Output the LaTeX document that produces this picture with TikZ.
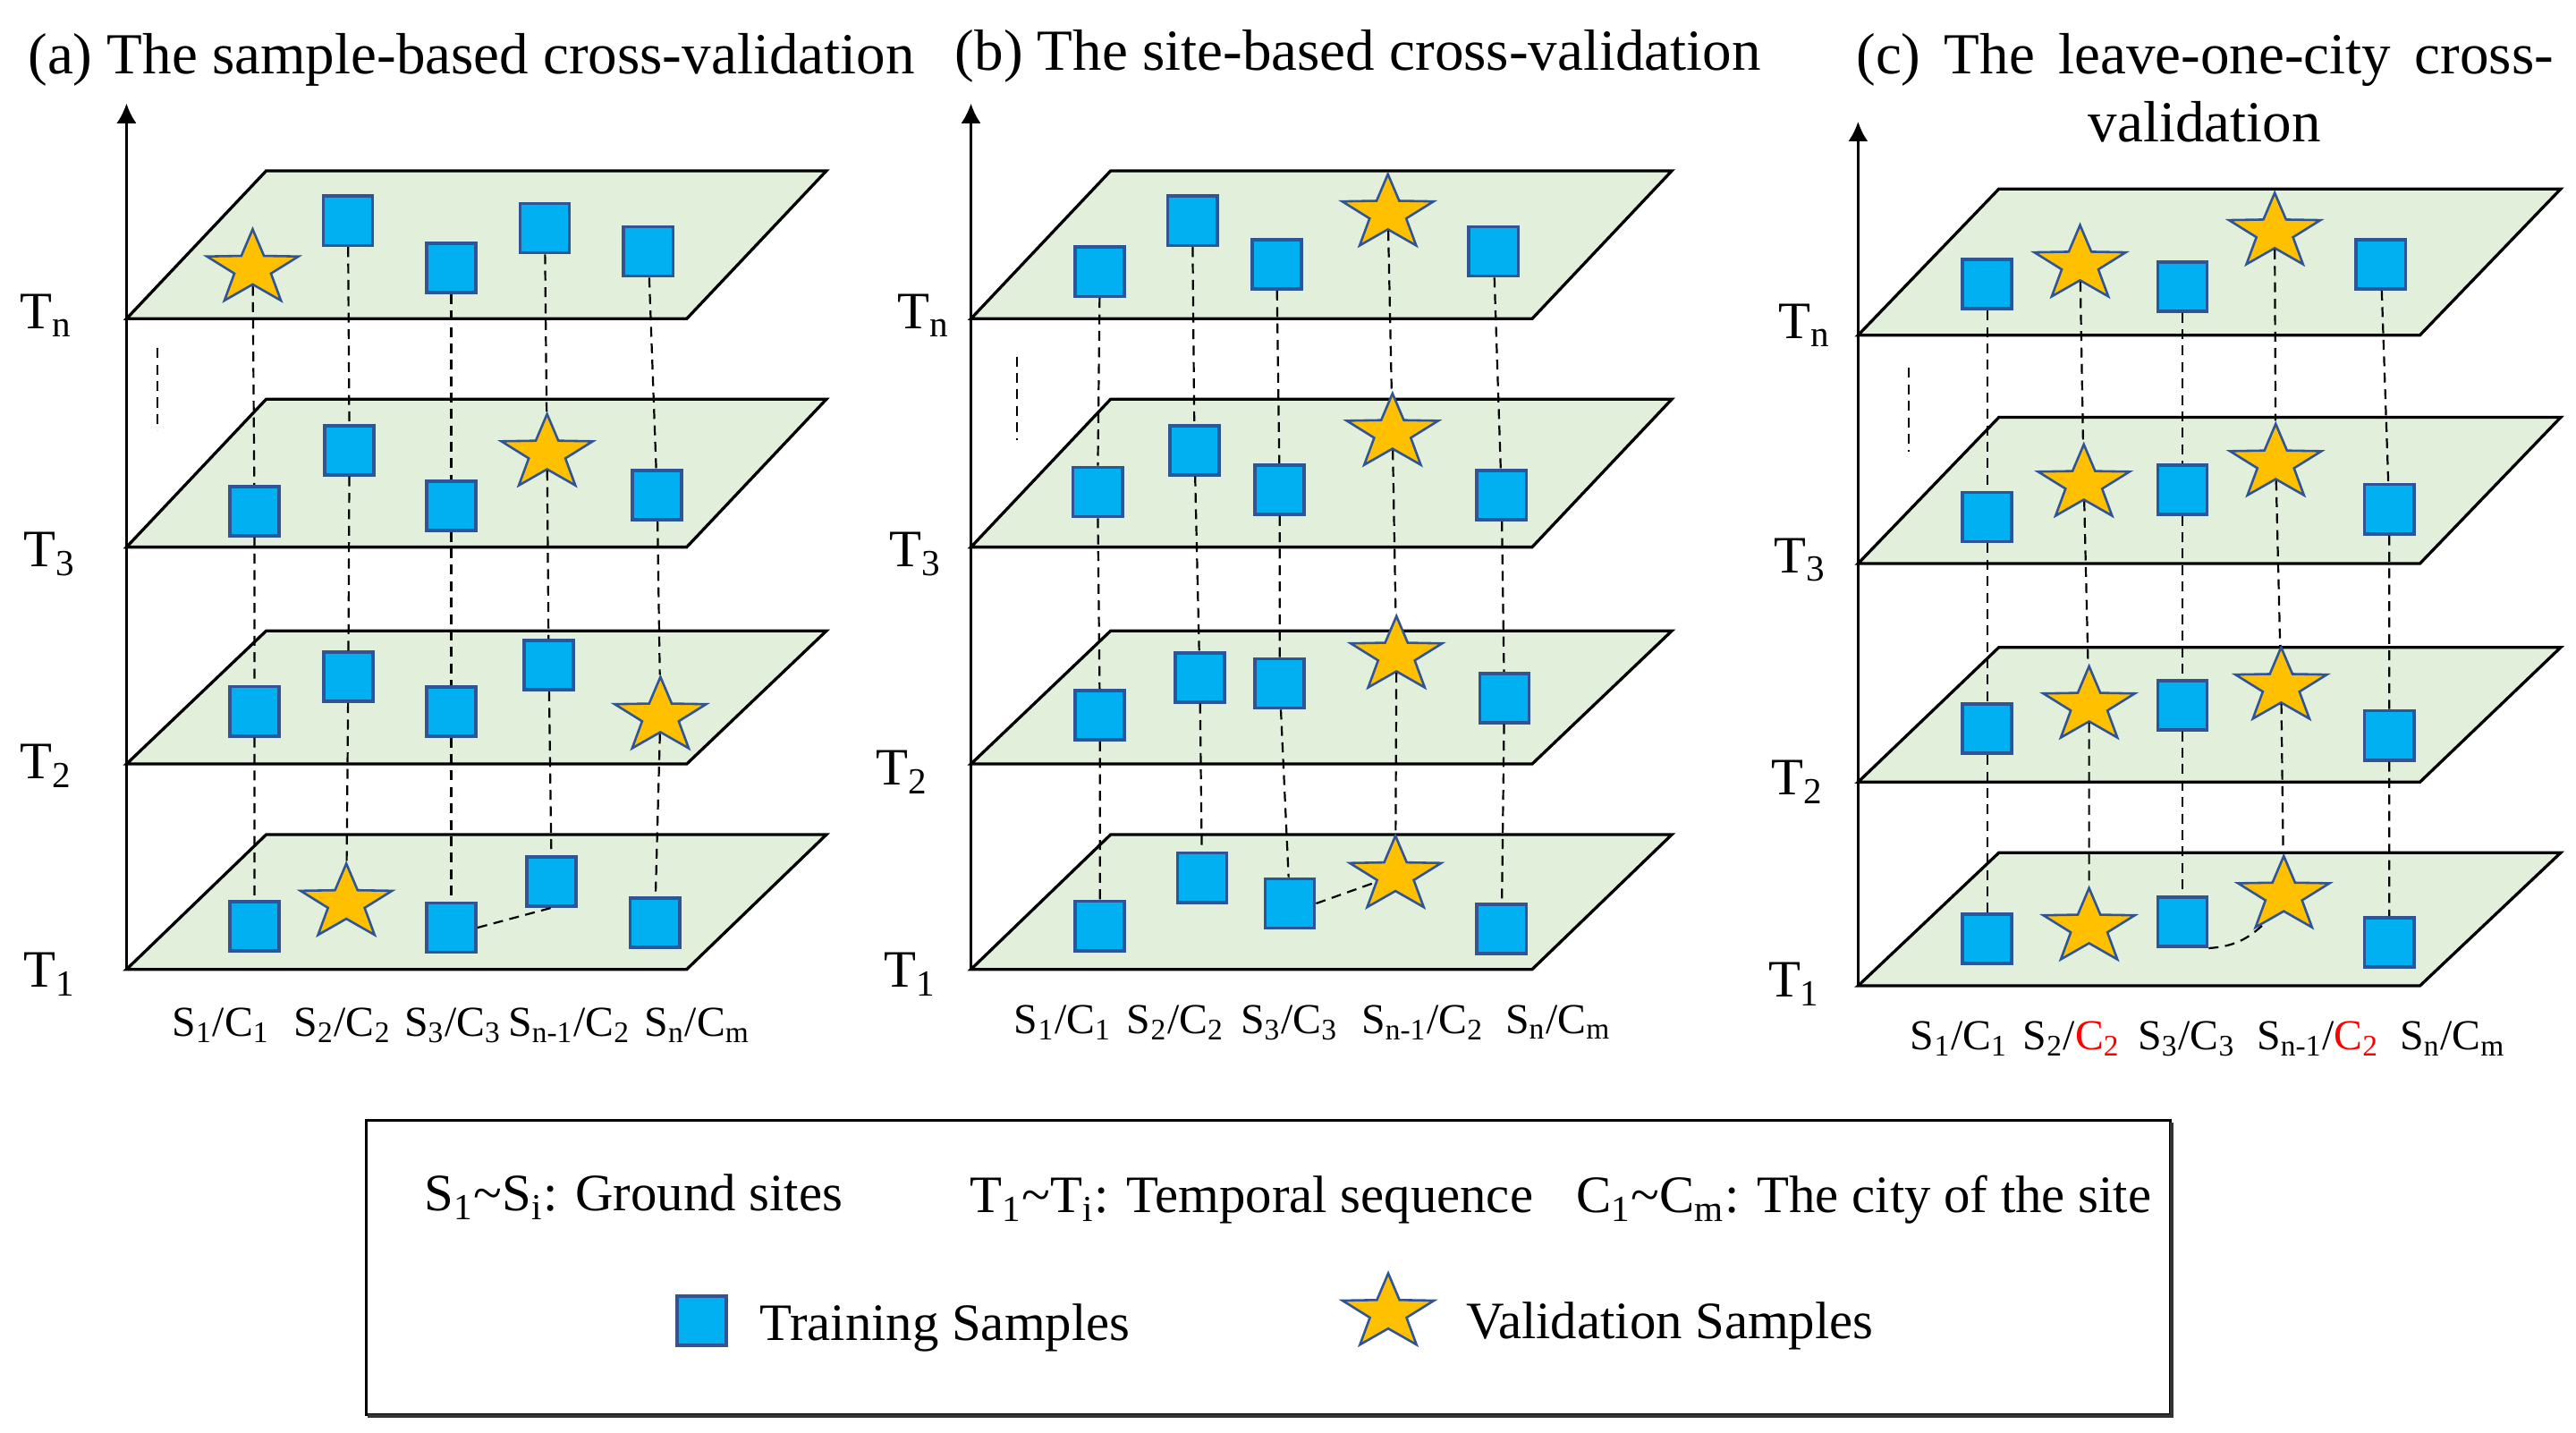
\documentclass[tikz,border=0pt]{standalone}
\usepackage{fontspec}
\setmainfont{Liberation Serif}
\usetikzlibrary{shapes.geometric,arrows.meta}
\definecolor{planefill}{HTML}{E2EFDA}
\definecolor{sqfill}{HTML}{00B0F0}
\definecolor{mkborder}{HTML}{2F5597}
\definecolor{starfill}{HTML}{FFC000}
\begin{document}
\begin{tikzpicture}[x=0.5pt,y=-0.5pt,
  plane/.style={fill=planefill, draw=black, line width=0.9pt, line join=miter},
  trn/.style={rectangle, fill=sqfill, draw=mkborder, line width=1pt, minimum width=15pt, minimum height=15pt, inner sep=0pt},
  val/.style={star, star points=5, star point ratio=2.5, fill=starfill, draw=mkborder, line width=0.7pt, minimum size=24pt, inner sep=0pt, xscale=1.22},
  link/.style={dash pattern=on 3pt off 2pt, line width=0.6pt},
  tlab/.style={font=\fontsize{16}{18}\selectfont, anchor=base west, inner sep=0pt},
  slab/.style={font=\fontsize{13}{15}\selectfont, anchor=base, inner sep=0pt},
  ttl/.style={font=\fontsize{17.7}{20}\selectfont, anchor=base west, inner sep=0pt},
  lgd/.style={font=\fontsize{16}{18}\selectfont, anchor=base west, inner sep=0pt},
  axis/.style={-{Latex[length=6pt,width=6pt]}, line width=0.8pt},
]
\useasboundingbox (0,0) rectangle (1568,872);

% ---------- titles ----------
\node[ttl] (ta) at (16.7,44.8) {(a) The sample-based cross-validation};
\node[ttl] (tb) at (581,42.7) {(b) The site-based cross-validation};
\node[ttl] (tc1) at (1129.5,44.8) {\makebox[212.25pt][s]{(c) The leave-one-city cross-}};
\node[ttl, anchor=base] (tc2) at (1342,86.5) {validation};

% ---------- panel (a) ----------
\draw[axis, line width=0.6pt] (77,590) -- (77,63);
\draw[plane] (77,194) -- ++(341,0) -- ++(85,-90) -- ++(-341,0) -- cycle;
\draw[plane] (77,333) -- ++(341,0) -- ++(85,-90) -- ++(-341,0) -- cycle;
\draw[plane] (77,465) -- ++(341,0) -- ++(85,-81) -- ++(-341,0) -- cycle;
\draw[plane] (77,590) -- ++(341,0) -- ++(85,-82) -- ++(-341,0) -- cycle;
\draw[link] (96,212) -- (96,262);
\node[tlab] (aTn) at (12,200) {T\textsubscript{n}};
\node[tlab] (aT3) at (14,345) {T\textsubscript{3}};
\node[tlab] (aT2) at (12,474) {T\textsubscript{2}};
\node[tlab] (aT1) at (14,601) {T\textsubscript{1}};

\node[val] (aN1) at (153.8,163.5) {};
\node[trn] (aN2) at (211.8,134.4) {};
\node[trn] (aN3) at (274.7,163) {};
\node[trn] (aN4) at (331.6,138.8) {};
\node[trn] (aN5) at (394.6,153) {};
\node[trn] (a31) at (154.9,311) {};
\node[trn] (a32) at (212.7,274) {};
\node[trn] (a33) at (274.7,307.8) {};
\node[val] (a34) at (333,276) {};
\node[trn] (a35) at (400,301.5) {};
\node[trn] (a21) at (154.9,432.9) {};
\node[trn] (a22) at (212,412) {};
\node[trn] (a23) at (274.7,433) {};
\node[trn] (a24) at (334,404.8) {};
\node[val] (a25) at (402,436) {};
\node[trn] (a11) at (154.9,563.7) {};
\node[val] (a12) at (210.8,549.6) {};
\node[trn] (a13) at (274.7,564.6) {};
\node[trn] (a14) at (335.8,536.5) {};
\node[trn] (a15) at (398.6,561.7) {};
\foreach \k in {1,...,5} {\draw[link] (aN\k) -- (a3\k) -- (a2\k) -- (a1\k);}
\draw[link] (a13.east) -- (a14.south);

\node[slab] (aS1) at (134.5,631) {S\textsubscript{1}/C\textsubscript{1}};
\node[slab] (aS2) at (208.5,631) {S\textsubscript{2}/C\textsubscript{2}};
\node[slab] (aS3) at (275.7,631) {S\textsubscript{3}/C\textsubscript{3}};
\node[slab] (aS4) at (346.6,631) {S\textsubscript{n-1}/C\textsubscript{2}};
\node[slab] (aS5) at (424.5,631) {S\textsubscript{n}/C\textsubscript{m}};

% ---------- panel (b) ----------
\draw[axis] (591,590) -- (591,63);
\draw[plane] (591,194) -- ++(341.6,0) -- ++(85,-90) -- ++(-341.6,0) -- cycle;
\draw[plane] (591,333) -- ++(341.6,0) -- ++(85,-90) -- ++(-341.6,0) -- cycle;
\draw[plane] (591,465) -- ++(341.6,0) -- ++(85,-81) -- ++(-341.6,0) -- cycle;
\draw[plane] (591,590) -- ++(341.6,0) -- ++(85,-82) -- ++(-341.6,0) -- cycle;
\draw[link] (619,217) -- (619,268);
\node[tlab] (bTn) at (546,200) {T\textsubscript{n}};
\node[tlab] (bT3) at (541,345) {T\textsubscript{3}};
\node[tlab] (bT2) at (533,478) {T\textsubscript{2}};
\node[tlab] (bT1) at (538,601) {T\textsubscript{1}};

\node[trn] (bN1) at (669.5,165.4) {};
\node[trn] (bN2) at (725.8,134.4) {};
\node[trn] (bN3) at (777.1,160.9) {};
\node[val] (bN4) at (844.8,130) {};
\node[trn] (bN5) at (909.1,153) {};
\node[trn] (b31) at (668.1,299.4) {};
\node[trn] (b32) at (727.1,274) {};
\node[trn] (b33) at (778.9,298) {};
\node[val] (b34) at (847.6,263.5) {};
\node[trn] (b35) at (914,301.5) {};
\node[trn] (b21) at (669.5,435.3) {};
\node[trn] (b22) at (730.3,412.3) {};
\node[trn] (b23) at (778.9,415.9) {};
\node[val] (b24) at (850,399) {};
\node[trn] (b25) at (915.7,424.8) {};
\node[trn] (b11) at (669.5,563.6) {};
\node[trn] (b12) at (731.7,534.2) {};
\node[trn] (b13) at (785.1,549.9) {};
\node[val] (b14) at (849.4,532.7) {};
\node[trn] (b15) at (914,565.5) {};
\foreach \k in {1,...,5} {\draw[link] (bN\k) -- (b3\k) -- (b2\k) -- (b1\k);}
\draw[link] (b13.east) -- (b14);

\node[slab] (bS1) at (647,629) {S\textsubscript{1}/C\textsubscript{1}};
\node[slab] (bS2) at (715.6,629) {S\textsubscript{2}/C\textsubscript{2}};
\node[slab] (bS3) at (784.8,629) {S\textsubscript{3}/C\textsubscript{3}};
\node[slab] (bS4) at (866,629) {S\textsubscript{n-1}/C\textsubscript{2}};
\node[slab] (bS5) at (948.5,629) {S\textsubscript{n}/C\textsubscript{m}};

% ---------- panel (c) ----------
\draw[axis] (1131,600) -- (1131,74);
\draw[plane] (1131,204) -- ++(342,0) -- ++(85.7,-89) -- ++(-342,0) -- cycle;
\draw[plane] (1131,343) -- ++(342,0) -- ++(85.7,-89) -- ++(-342,0) -- cycle;
\draw[plane] (1131,476) -- ++(342,0) -- ++(85.7,-82) -- ++(-342,0) -- cycle;
\draw[plane] (1131,600) -- ++(342,0) -- ++(85.7,-81) -- ++(-342,0) -- cycle;
\draw[link] (1162,224) -- (1162,275);
\node[tlab] (cTn) at (1082,206) {T\textsubscript{n}};
\node[tlab] (cT3) at (1079.5,348.6) {T\textsubscript{3}};
\node[tlab] (cT2) at (1078,484) {T\textsubscript{2}};
\node[tlab] (cT1) at (1076,607) {T\textsubscript{1}};

\node[trn] (cN1) at (1209.6,173) {};
\node[val] (cN2) at (1266.1,161) {};
\node[trn] (cN3) at (1328.4,174.4) {};
\node[val] (cN4) at (1384.6,141.4) {};
\node[trn] (cN5) at (1449.2,160.9) {};
\node[trn] (c31) at (1209.6,314.7) {};
\node[val] (c32) at (1268.4,294.5) {};
\node[trn] (c33) at (1328.4,298) {};
\node[val] (c34) at (1385.2,282) {};
\node[trn] (c35) at (1454.3,309.9) {};
\node[trn] (c21) at (1209.6,443.6) {};
\node[val] (c22) at (1271.6,429.5) {};
\node[trn] (c23) at (1328.4,429.2) {};
\node[val] (c24) at (1388.5,418) {};
\node[trn] (c25) at (1454.3,447.6) {};
\node[trn] (c11) at (1209.6,571.3) {};
\node[val] (c12) at (1271.6,564.5) {};
\node[trn] (c13) at (1328.4,561.1) {};
\node[val] (c14) at (1390.1,545) {};
\node[trn] (c15) at (1454.3,573.6) {};
\foreach \k in {1,...,5} {\draw[link] (cN\k) -- (c3\k) -- (c2\k) -- (c1\k);}
\draw[link] (c13.south east) to[bend right=20] (c14);

\node[slab] (cS1) at (1192.5,639) {S\textsubscript{1}/C\textsubscript{1}};
\node[slab] (cS2) at (1261,639) {S\textsubscript{2}/\textcolor{red}{C\textsubscript{2}}};
\node[slab] (cS3) at (1331,639) {S\textsubscript{3}/C\textsubscript{3}};
\node[slab] (cS4) at (1411,639) {S\textsubscript{n-1}/\textcolor{red}{C\textsubscript{2}}};
\node[slab] (cS5) at (1493,639) {S\textsubscript{n}/C\textsubscript{m}};

% ---------- legend ----------
\draw[line width=0.9pt] (223,682) rectangle (1321,861);
\draw[line width=1.2pt, black!80] (224,862) -- (1322,862) -- (1322,683);
\node[lgd] (l1) at (258,737) {S\textsubscript{1}\textasciitilde S\textsubscript{i}: Ground sites};
\node[lgd] (l2) at (590,738) {T\textsubscript{1}\textasciitilde T\textsubscript{i}: Temporal sequence};
\node[lgd] (l3) at (959,738) {C\textsubscript{1}\textasciitilde C\textsubscript{m}: The city of the site};
\node[trn] (lgT) at (427,804) {};
\node[lgd] (l4) at (462,816) {Training Samples};
\node[val] (lgV) at (845,799) {};
\node[lgd] (l5) at (892,815) {Validation Samples};
\end{tikzpicture}
\end{document}
